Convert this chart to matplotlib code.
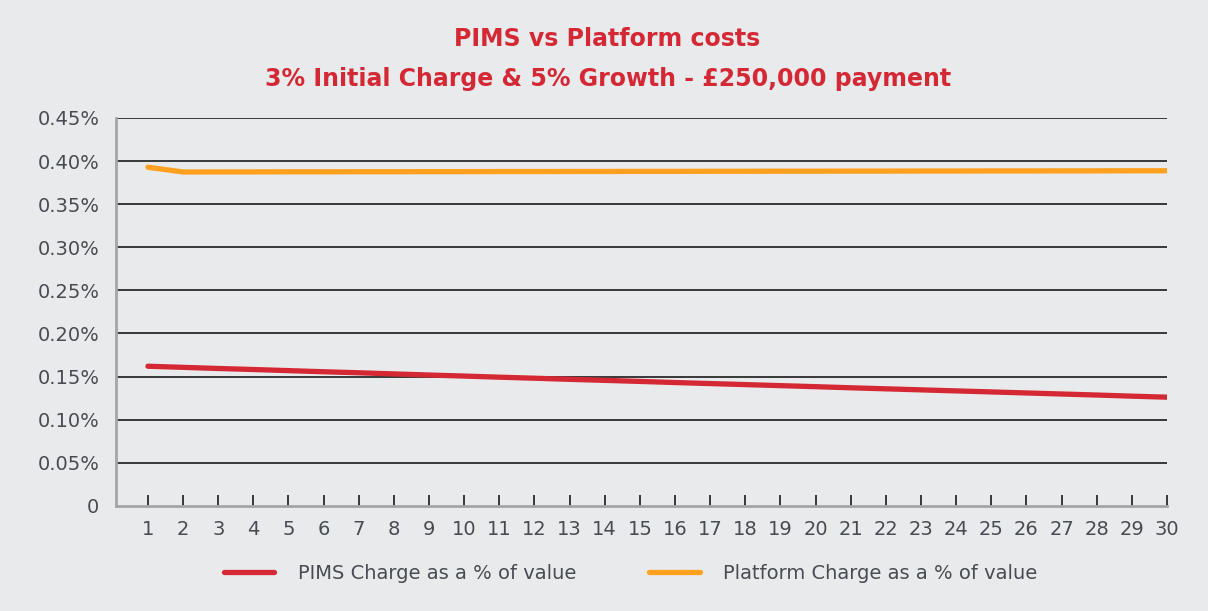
import matplotlib
matplotlib.use("Agg")
import matplotlib.pyplot as plt
from matplotlib.ticker import FuncFormatter

# values (percent of value)
years = list(range(1, 31))
pims_charge = [0.1620, 0.1607, 0.1594, 0.1582, 0.1569, 0.1556, 0.1544, 0.1531, 0.1518, 0.1506,
               0.1493, 0.1481, 0.1468, 0.1456, 0.1444, 0.1431, 0.1419, 0.1407, 0.1395, 0.1383,
               0.1370, 0.1358, 0.1346, 0.1334, 0.1322, 0.1310, 0.1298, 0.1286, 0.1273, 0.1261]
platform_charge = [0.3928, 0.3873, 0.3874, 0.3874, 0.3875, 0.3875, 0.3876, 0.3876, 0.3877, 0.3877,
                   0.3878, 0.3878, 0.3879, 0.3879, 0.3880, 0.3880, 0.3881, 0.3881, 0.3882, 0.3882,
                   0.3883, 0.3883, 0.3884, 0.3884, 0.3885, 0.3885, 0.3886, 0.3886, 0.3887, 0.3887]
y_ticks = [0, 0.05, 0.10, 0.15, 0.20, 0.25, 0.30, 0.35, 0.40, 0.45]

title = "PIMS vs Platform costs\n3% Initial Charge & 5% Growth - £250,000 payment"
labels = ["PIMS Charge as a % of value", "Platform Charge as a % of value"]

bg = "#e9eaec"
red = "#d42835"
orange = "#ffa01e"
text_col = "#474c52"

plt.rcParams['font.family'] = ['DejaVu Sans']

fig = plt.figure(figsize=(12.08, 6.11), dpi=100, facecolor=bg)
ax = fig.add_axes([0.096, 0.172, 0.870, 0.635])
ax.set_facecolor(bg)

ax.plot(years, pims_charge, color=red, lw=3.8, solid_capstyle='round', label=labels[0], zorder=3)
ax.plot(years, platform_charge, color=orange, lw=3.8, solid_capstyle='round', label=labels[1], zorder=3)

ax.set_ylim(0, 0.45)
ax.set_xlim(0.09, 30.0)
ax.set_yticks(y_ticks)
ax.yaxis.set_major_formatter(FuncFormatter(lambda v, p: "0" if v == 0 else f"{v:.2f}%"))
ax.set_xticks(years)
ax.set_xticklabels([str(y) for y in years])

for v in y_ticks[1:]:
    ax.axhline(v, color="#2a2a2a", lw=1.3, zorder=1)

for side in ["top", "right"]:
    ax.spines[side].set_visible(False)
ax.spines["left"].set_color("#a5a5a5")
ax.spines["left"].set_linewidth(2)
ax.spines["bottom"].set_color("#a5a5a5")
ax.spines["bottom"].set_linewidth(2)

ax.tick_params(axis='y', length=0, pad=12, labelsize=14, labelcolor=text_col)
ax.tick_params(axis='x', direction='in', length=8, width=1.3, color="#2a2a2a",
               pad=10, labelsize=14, labelcolor=text_col)

fig.text(0.503, 0.903, title, ha='center', va='center', color=red,
         fontsize=17, fontweight='bold', linespacing=1.85)

leg = fig.legend(loc='center', bbox_to_anchor=(0.522, 0.062), ncol=2, frameon=False,
                 fontsize=14, handlelength=2.6, handletextpad=1.2, columnspacing=3.75)
for t in leg.get_texts():
    t.set_color(text_col)

fig.savefig("out.png", dpi=100, facecolor=bg)
